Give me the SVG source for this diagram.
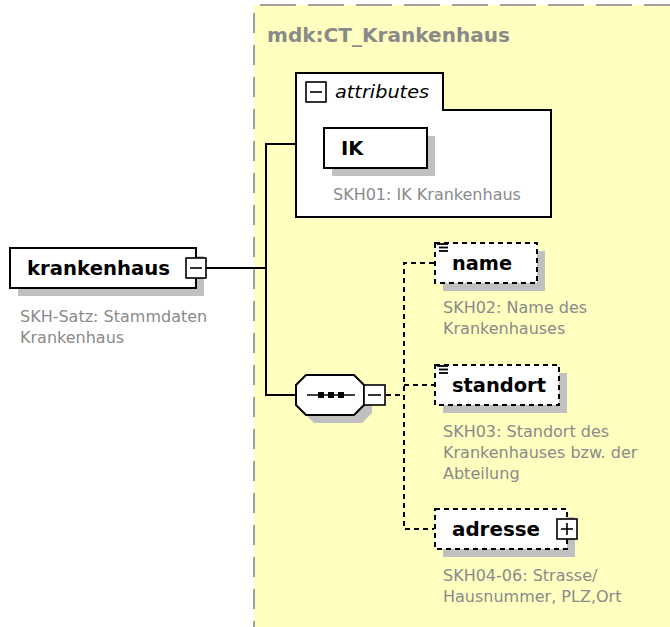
<svg xmlns="http://www.w3.org/2000/svg" width="670" height="627" viewBox="0 0 670 627">
<style>
.box{fill:#fff;stroke:#000;stroke-width:2}
.dbox{fill:#fff;stroke:#000;stroke-width:2;stroke-dasharray:5,4}
.sh{fill:#c0c0c0}
.lbl{font-family:"DejaVu Sans",sans-serif;font-weight:bold;font-size:19.5px;fill:#000}
.desc{font-family:"DejaVu Sans",sans-serif;font-size:16px;fill:#8a8a8a}
.btn{fill:#fff;stroke:#000;stroke-width:1.6}
.sym{stroke:#000;stroke-width:1.6;fill:none}
.ico{stroke:#000;stroke-width:1.8;fill:none}
.con{stroke:#000;stroke-width:2;fill:none}
.dcon{stroke:#000;stroke-width:2;fill:none;stroke-dasharray:5,4}
</style>
<rect width="670" height="627" fill="#fff"/>
<g id="ct_krankenhaus">
<rect x="254" y="5" width="416" height="622" fill="#ffffc0"/>
<line x1="260" y1="5" x2="670" y2="5" stroke="#a0a0a0" stroke-width="2" stroke-dasharray="36,12"/>
<line x1="254" y1="13" x2="254" y2="627" stroke="#a0a0a0" stroke-width="2" stroke-dasharray="20,12"/>
<text x="267" y="42" font-family="DejaVu Sans,sans-serif" font-weight="bold" font-size="19.5" fill="#8a8a8a" textLength="243" lengthAdjust="spacingAndGlyphs">mdk:CT_Krankenhaus</text>
</g>
<g id="connectors">
<line class="con" x1="206" y1="268" x2="266" y2="268"/>
<line class="con" x1="266" y1="144" x2="266" y2="395"/>
<line class="con" x1="265" y1="144" x2="296" y2="144"/>
<line class="con" x1="265" y1="395" x2="296" y2="395"/>
<line class="dcon" x1="386" y1="395" x2="404" y2="395"/>
<polyline class="dcon" points="434,263 404,263 404,529 434,529"/>
<line class="dcon" x1="404" y1="385" x2="434" y2="385"/>
</g>
<g id="krankenhaus">
<rect class="sh" x="18" y="256" width="186" height="40"/>
<rect class="box" x="10" y="248" width="186" height="40"/>
<text class="lbl" x="27" y="275" textLength="143" lengthAdjust="spacingAndGlyphs">krankenhaus</text>
<rect class="btn" x="186" y="258" width="20" height="20"/>
<line class="sym" x1="190" y1="268" x2="202" y2="268"/>
<text class="desc" x="20" y="322">SKH-Satz: Stammdaten</text>
<text class="desc" x="20" y="343">Krankenhaus</text>
</g>
<g id="attributes">
<path d="M296,73 H443 V110 H551 V217 H296 Z" fill="#fff" stroke="#000" stroke-width="2"/>
<rect class="btn" x="306" y="82" width="20" height="20"/>
<line class="sym" x1="310" y1="92" x2="322" y2="92"/>
<text x="335" y="98" font-family="DejaVu Sans,sans-serif" font-style="italic" font-size="18" fill="#000" textLength="94" lengthAdjust="spacingAndGlyphs">attributes</text>
</g>
<g id="IK">
<rect class="sh" x="332" y="136" width="103" height="40"/>
<rect class="box" x="324" y="128" width="103" height="40"/>
<text class="lbl" x="341" y="155">IK</text>
<text class="desc" x="333" y="200">SKH01: IK Krankenhaus</text>
</g>
<g id="sequence">
<polygon class="sh" points="314,383 362,383 372,393 372,413 362,423 314,423 304,413 304,393"/>
<polygon class="box" points="306,375 354,375 364,385 364,405 354,415 306,415 296,405 296,385"/>
<line class="sym" x1="307" y1="395" x2="355" y2="395"/>
<rect x="318" y="392" width="6" height="6" fill="#000"/>
<rect x="328" y="392" width="6" height="6" fill="#000"/>
<rect x="338" y="392" width="6" height="6" fill="#000"/>
<rect class="btn" x="364" y="385" width="21" height="20"/>
<line class="sym" x1="368" y1="395" x2="381" y2="395"/>
</g>
<g id="name">
<rect class="sh" x="443" y="251" width="102" height="40"/>
<rect class="dbox" x="435" y="243" width="102" height="40"/>
<g class="ico"><line x1="437" y1="244" x2="448" y2="244"/><line x1="439" y1="247.5" x2="448" y2="247.5"/><line x1="439" y1="251" x2="448" y2="251"/></g>
<text class="lbl" x="452" y="270" textLength="60" lengthAdjust="spacingAndGlyphs">name</text>
<text class="desc" x="443" y="313">SKH02: Name des</text>
<text class="desc" x="443" y="334">Krankenhauses</text>
</g>
<g id="standort">
<rect class="sh" x="443" y="373" width="124" height="40"/>
<rect class="dbox" x="435" y="365" width="124" height="40"/>
<g class="ico"><line x1="437" y1="366" x2="448" y2="366"/><line x1="439" y1="369.5" x2="448" y2="369.5"/><line x1="439" y1="373" x2="448" y2="373"/></g>
<text class="lbl" x="452" y="392" textLength="94" lengthAdjust="spacingAndGlyphs">standort</text>
<text class="desc" x="443" y="437">SKH03: Standort des</text>
<text class="desc" x="443" y="458">Krankenhauses bzw. der</text>
<text class="desc" x="443" y="479">Abteilung</text>
</g>
<g id="adresse">
<rect class="sh" x="443" y="517" width="132" height="40"/>
<rect class="dbox" x="435" y="509" width="132" height="40"/>
<rect class="btn" x="557" y="519" width="20" height="20"/>
<line class="sym" x1="561" y1="529" x2="573" y2="529"/>
<line class="sym" x1="567" y1="523" x2="567" y2="535"/>
<text class="lbl" x="452" y="536" textLength="88" lengthAdjust="spacingAndGlyphs">adresse</text>
<text class="desc" x="443" y="581">SKH04-06: Strasse/</text>
<text class="desc" x="443" y="602">Hausnummer, PLZ,Ort</text>
</g>
</svg>
